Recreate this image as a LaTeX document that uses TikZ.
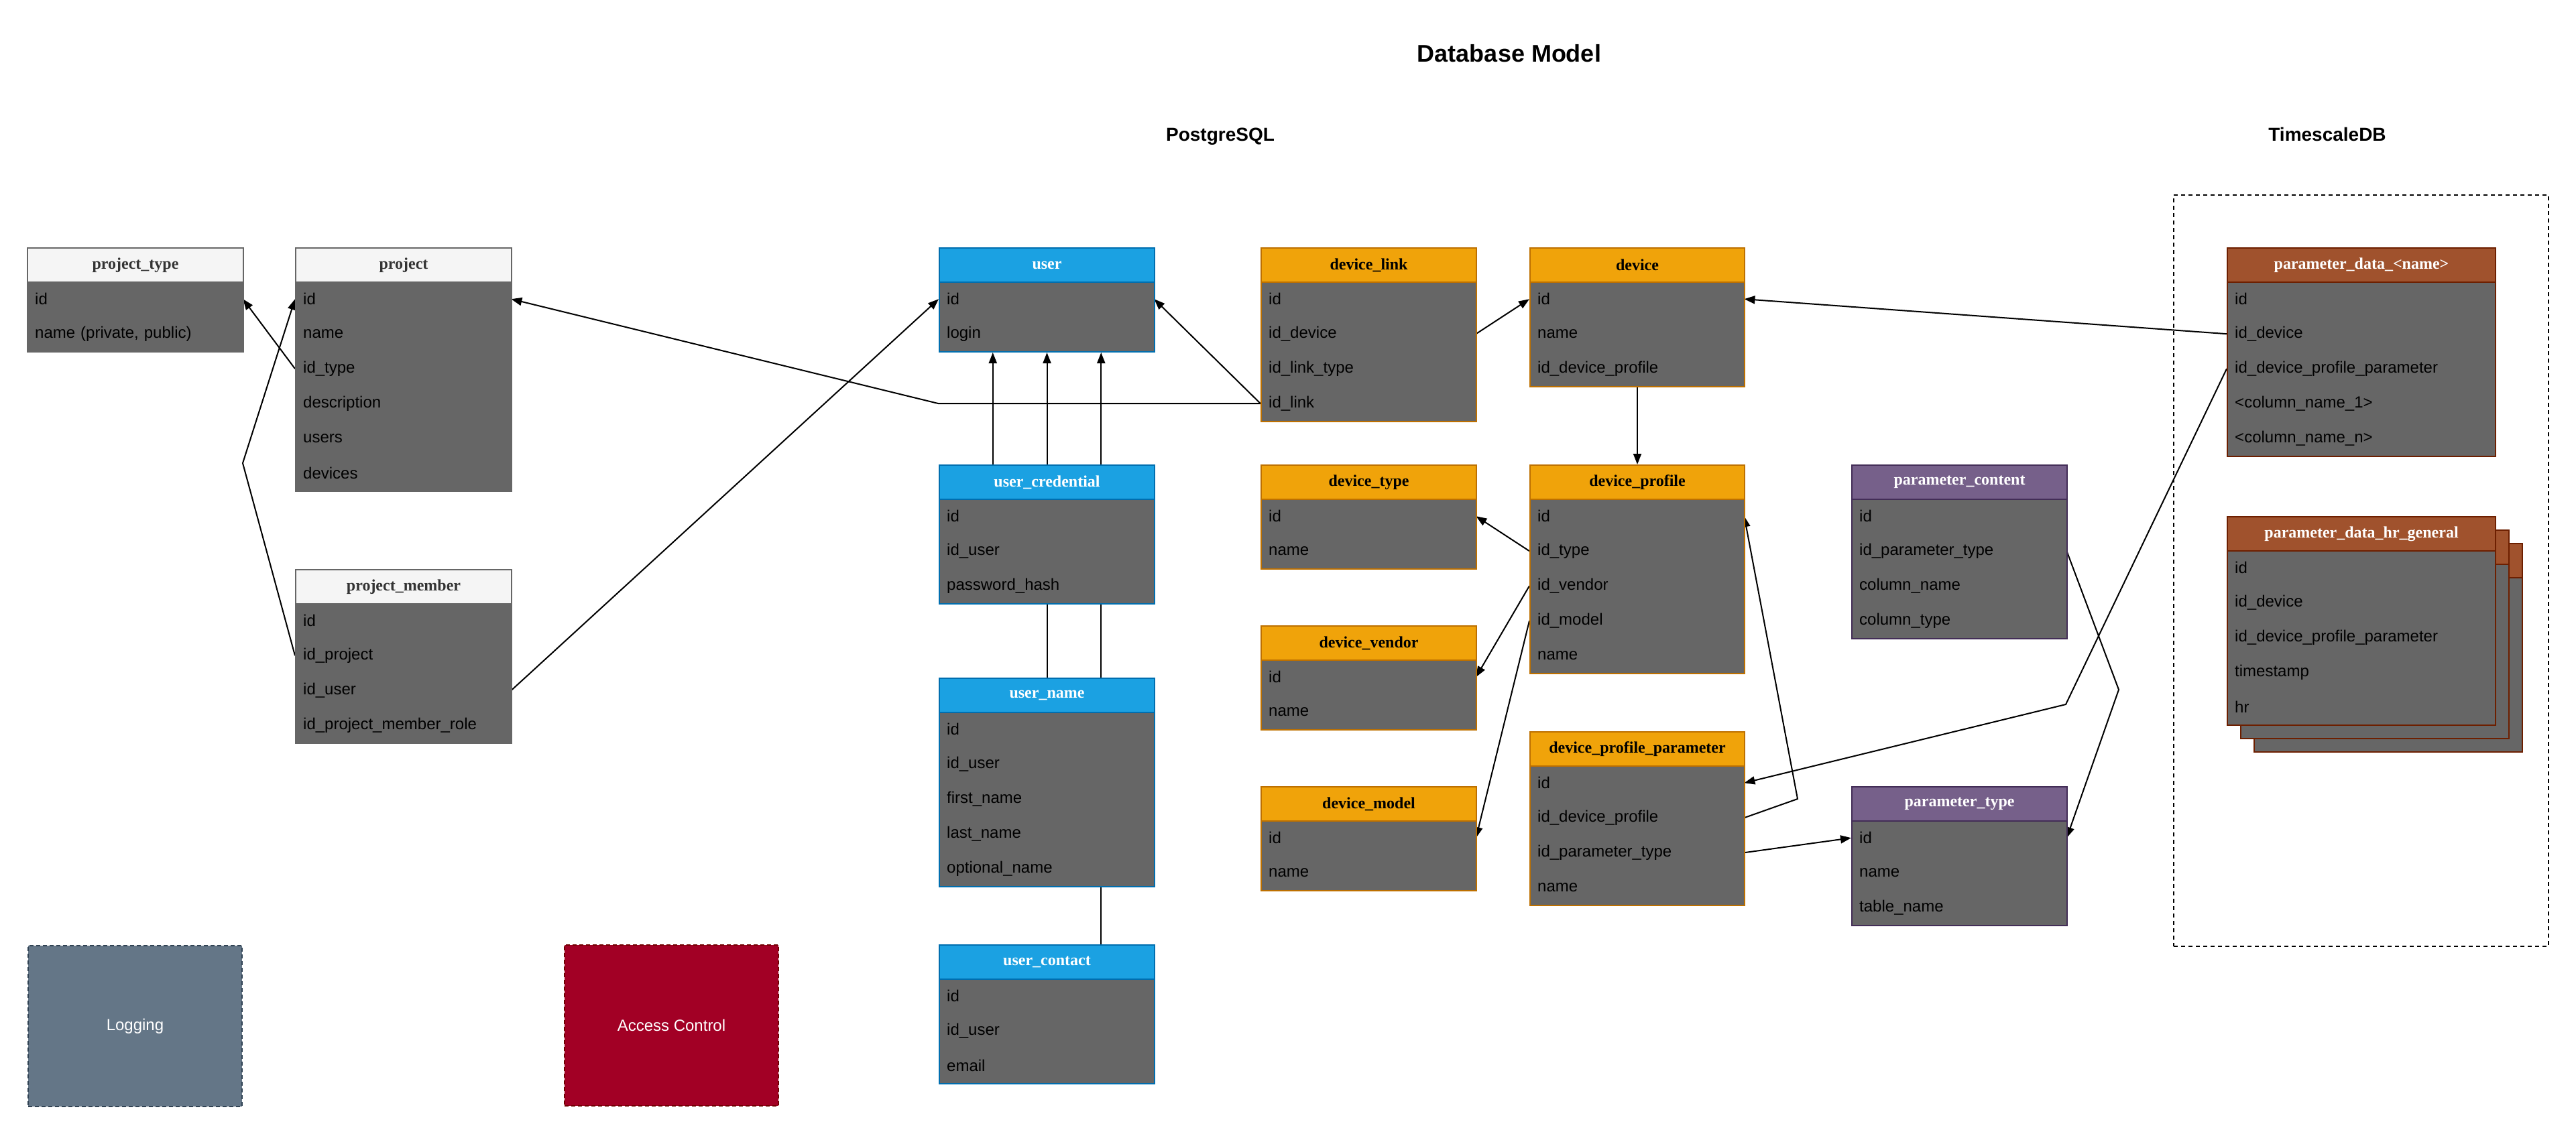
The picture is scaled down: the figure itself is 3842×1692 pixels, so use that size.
\documentclass[tikz,border=0pt]{standalone}
\usepackage{fontspec}
\setmainfont{Liberation Sans}
\newfontfamily\hdrfont{Liberation Serif}
\usetikzlibrary{arrows.meta,calc}
\definecolor{bodygray}{HTML}{666666}
\definecolor{grayhead}{HTML}{F5F5F5}
\definecolor{grayborder}{HTML}{666666}
\definecolor{graytext}{HTML}{333333}
\definecolor{bluehead}{HTML}{1BA1E2}
\definecolor{blueborder}{HTML}{006EAF}
\definecolor{bluetext}{HTML}{FFFFFF}
\definecolor{orangehead}{HTML}{F0A30A}
\definecolor{orangeborder}{HTML}{BD7000}
\definecolor{orangetext}{HTML}{000000}
\definecolor{purplehead}{HTML}{76608A}
\definecolor{purpleborder}{HTML}{432D57}
\definecolor{purpletext}{HTML}{FFFFFF}
\definecolor{brownhead}{HTML}{A0522D}
\definecolor{brownborder}{HTML}{6D1F00}
\definecolor{browntext}{HTML}{FFFFFF}
\definecolor{logfill}{HTML}{647687}
\definecolor{logborder}{HTML}{314354}
\definecolor{acfill}{HTML}{A20025}
\definecolor{acborder}{HTML}{6F0000}
\pgfdeclarelayer{bg}
\pgfsetlayers{bg,main}
\tikzset{
  tframe/.style={draw=#1border, fill=bodygray, line width=2pt, inner sep=0pt},
  thead/.style={draw=#1border, fill=#1head, text=#1text, line width=2pt, minimum height=51pt, inner sep=0pt, font=\hdrfont\bfseries\fontsize{24}{29}\selectfont},
  trow/.style={inner xsep=12pt, inner ysep=0pt, minimum height=52pt, align=left, text=black, font=\fontsize{24}{29}\selectfont},
  conn/.style={line width=2pt, draw=black},
  arr/.style={conn, -{Triangle[length=16pt,width=12pt]}},
  sidebox/.style={line width=2pt, dash pattern=on 6pt off 4pt, inner sep=0pt, text=white, font=\fontsize{24}{29}\selectfont},
}
\newcommand{\dbtable}[8]{%
  \pgfmathsetmacro{\dbtw}{#4-24}%
  \pgfmathsetmacro{\dbth}{51+52*#7}%
  \node[tframe=#5, minimum width=#4pt, minimum height=\dbth pt, anchor=north west] (#1) at (#2,#3) {};
  \node[thead=#5, minimum width=#4pt, anchor=north west] (#1-h) at (#2,#3) {#6};
  \foreach \rowtext [count=\i] in {#8} {
    \node[trow, text width=\dbtw pt, anchor=north west] (#1-\i) at (#2,{#3+51+(\i-1)*52}) {\rowtext};
  }%
}
\catcode`\_=12
\begin{document}
\begin{tikzpicture}[x=1pt,y=-1pt]
\useasboundingbox (0,0) rectangle (3842,1692);
% titles
\node[anchor=base, font=\bfseries\fontsize{36}{43}\selectfont] (title) at (2251,92) {Database Model};
\node[anchor=base, font=\bfseries\fontsize{28}{34}\selectfont] (pg) at (1820,210) {PostgreSQL};
\node[anchor=base, font=\bfseries\fontsize{28}{34}\selectfont] (ts) at (3471,210) {TimescaleDB};
% TimescaleDB region
\begin{pgfonlayer}{bg}
\node[draw=black, line width=2pt, dash pattern=on 6pt off 5pt, minimum width=559pt, minimum height=1121pt, inner sep=0pt, anchor=north west] (tsbox) at (3241,290) {};
\end{pgfonlayer}
% project tables
\dbtable{ptype}{40}{369}{322}{gray}{project_type}{2}{id,{name (private, public)}}
\dbtable{project}{440}{369}{322}{gray}{project}{6}{id,name,id_type,description,users,devices}
\dbtable{pmember}{440}{849}{322}{gray}{project_member}{4}{id,id_project,id_user,id_project_member_role}
% user tables
\dbtable{user}{1400}{369}{321}{blue}{user}{2}{id,login}
\dbtable{ucred}{1400}{693}{321}{blue}{user_credential}{3}{id,id_user,password_hash}
\dbtable{uname}{1400}{1011}{321}{blue}{user_name}{5}{id,id_user,first_name,last_name,optional_name}
\dbtable{ucontact}{1400}{1409}{321}{blue}{user_contact}{3}{id,id_user,email}
% device tables
\dbtable{dlink}{1880}{369}{321}{orange}{device_link}{4}{id,id_device,id_link_type,id_link}
\dbtable{dtype}{1880}{693}{321}{orange}{device_type}{2}{id,name}
\dbtable{dvendor}{1880}{933}{321}{orange}{device_vendor}{2}{id,name}
\dbtable{dmodel}{1880}{1173}{321}{orange}{device_model}{2}{id,name}
\dbtable{device}{2281}{369}{320}{orange}{device}{3}{id,name,id_device_profile}
\dbtable{dprof}{2281}{693}{320}{orange}{device_profile}{5}{id,id_type,id_vendor,id_model,name}
\dbtable{dpp}{2281}{1091}{320}{orange}{device_profile_parameter}{4}{id,id_device_profile,id_parameter_type,name}
% parameter tables
\dbtable{pcontent}{2761}{693}{321}{purple}{parameter_content}{4}{id,id_parameter_type,column_name,column_type}
\dbtable{partype}{2761}{1173}{321}{purple}{parameter_type}{3}{id,name,table_name}
% timescale tables
\dbtable{pdname}{3321}{369}{400}{brown}{parameter_data_<name>}{5}{id,id_device,id_device_profile_parameter,<column_name_1>,<column_name_n>}
\node[tframe=brown, minimum width=400pt, minimum height=311pt, anchor=north west] (hrback2) at (3361,810) {};
\node[thead=brown, minimum width=400pt, anchor=north west] (hrback2h) at (3361,810) {};
\node[tframe=brown, minimum width=400pt, minimum height=311pt, anchor=north west] (hrback1) at (3341,790) {};
\node[thead=brown, minimum width=400pt, anchor=north west] (hrback1h) at (3341,790) {};
\dbtable{pdhr}{3321}{770}{400}{brown}{parameter_data_hr_general}{5}{id,id_device,id_device_profile_parameter,timestamp,hr}
% side boxes
\node[sidebox, draw=logborder, fill=logfill, minimum width=319pt, minimum height=240pt, anchor=north west] (logging) at (41,1410) {Logging};
\node[sidebox, draw=acborder, fill=acfill, minimum width=319pt, minimum height=240pt, anchor=north west] (access) at (841,1409) {Access Control};
% waypoints
\coordinate (pmw) at (362,691);
\coordinate (pdw) at (3081,1051);
\coordinate (pcw) at (3160,1029);
\coordinate (dppw) at (2681,1192);
\coordinate (ux1) at ($(user.south west)!0.25!(user.south east)$);
\coordinate (ux3) at ($(user.south west)!0.75!(user.south east)$);
% connectors
\begin{pgfonlayer}{bg}
\draw[arr] (project-3.west) -- (ptype-1.east);
\draw[arr] (pmember-2.west) -- (pmw) -- (project-1.west);
\draw[arr] (pmember-3.east) -- (user-1.west);
\draw[arr] (dlink-4.west) -- (dlink-4.west -| user.west) -- (project-1.east);
\draw[arr] (dlink-4.west) -- (user-1.east);
\draw[arr] (ucred.north -| ux1) -- (ux1);
\draw[arr] (uname.north -| user.south) -- (user.south);
\draw[arr] (ucontact.north -| ux3) -- (ux3);
\draw[arr] (dlink-2.east) -- (device-1.west);
\draw[arr] (device.south) -- (dprof.north);
\draw[arr] (dprof-2.west) -- (dtype-1.east);
\draw[arr] (dprof-3.west) -- (dvendor-1.east);
\draw[arr] (dprof-4.west) -- (dmodel-1.east);
\draw[arr] (dpp-2.east) -- (dppw) -- (dprof-1.east);
\draw[arr] (dpp-3.east) -- (partype-1.west);
\draw[arr] (pcontent-2.east) -- (pcw) -- (partype-1.east);
\draw[arr] (pdname-2.west) -- (device-1.east);
\draw[arr] (pdname-3.west) -- (pdw) -- (dpp-1.east);
\end{pgfonlayer}
\end{tikzpicture}
\end{document}
